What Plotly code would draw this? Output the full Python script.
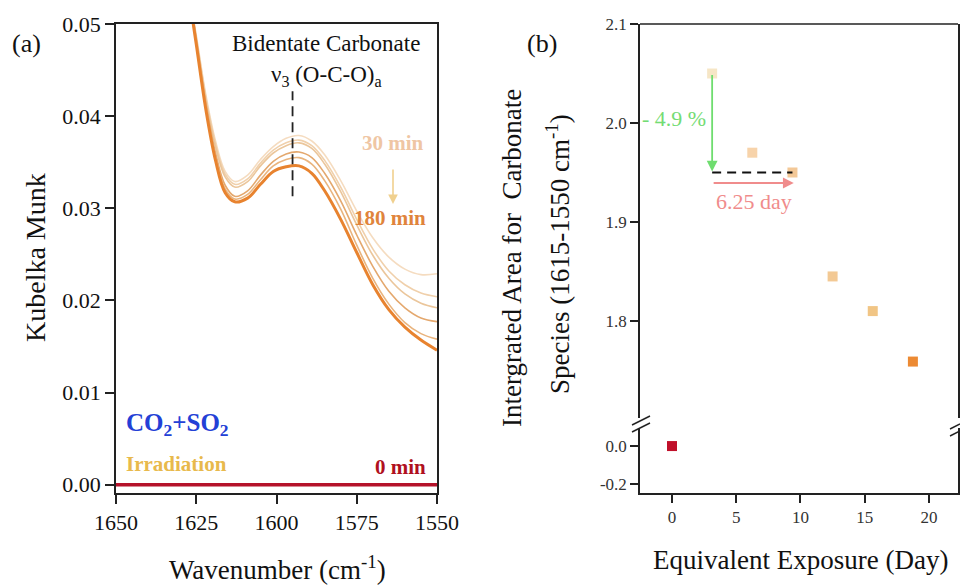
import plotly.graph_objects as go

# ---------------- data ----------------
wavenumber = [1628, 1625, 1622, 1619, 1616, 1613, 1609, 1605, 1601, 1597,
              1593, 1589, 1585, 1580, 1575, 1570, 1565, 1560, 1555, 1550]

km_30 = [55.0, 48.8, 42.3, 37.3, 34.0, 32.9, 33.6, 35.3, 36.7, 37.6,
         37.9, 37.3, 35.8, 33.0, 29.7, 26.8, 24.7, 23.4, 22.8, 22.9]
km_60 = [55.0, 48.6, 42.0, 37.0, 33.7, 32.6, 33.2, 34.9, 36.3, 37.1,
         37.4, 36.8, 35.2, 32.3, 28.8, 25.6, 23.2, 21.7, 20.8, 20.4]
km_90 = [55.0, 48.5, 41.8, 36.7, 33.4, 32.3, 32.9, 34.6, 36.0, 36.8,
         37.1, 36.5, 34.8, 31.8, 28.2, 24.9, 22.4, 20.7, 19.7, 19.2]
km_120 = [55.0, 48.3, 41.4, 36.0, 32.5, 31.3, 31.9, 33.6, 35.1, 35.9,
          36.1, 35.5, 33.8, 30.8, 27.1, 23.7, 21.0, 19.2, 18.1, 17.7]
km_150 = [55.0, 48.1, 41.1, 35.6, 32.1, 31.0, 31.5, 33.1, 34.6, 35.3,
          35.5, 34.8, 33.0, 29.9, 26.0, 22.4, 19.6, 17.6, 16.4, 15.8]
km_180 = [54.8, 47.8, 40.7, 35.2, 31.7, 30.7, 31.1, 32.6, 34.0, 34.5,
          34.6, 33.8, 31.9, 28.8, 25.2, 21.7, 19.0, 17.1, 15.7, 14.6]
km_0_x = [1650, 1550]
km_0 = [0.0, 0.0]
km_scale = 1e-3  # values above are in units of 0.001

exposure_day = [3.125, 6.25, 9.375, 12.5, 15.625, 18.75]
area = [2.050, 1.970, 1.950, 1.845, 1.810, 1.759]
exposure_zero = [0]
area_zero = [0.0]

peak_wn = 1595
peak_top, peak_bottom = 0.0427, 0.0313

x_ticks_a = [1650, 1625, 1600, 1575, 1550]
y_ticks_a = [0.00, 0.01, 0.02, 0.03, 0.04, 0.05]
y_ticklabels_a = ["0.00", "0.01", "0.02", "0.03", "0.04", "0.05"]
x_ticks_b = [0, 5, 10, 15, 20]
y_ticks_b_up = [1.8, 1.9, 2.0, 2.1]
y_ticklabels_b_up = ["1.8", "1.9", "2.0", "2.1"]
y_ticks_b_lo = [-0.2, 0.0]
y_ticklabels_b_lo = ["-0.2", "0.0"]

# ---------------- styling ----------------
W, H = 960, 588
FONT = "Liberation Serif"
def PX(p): return p / W
def PY(p): return 1 - p / H

curve_colors = ["#f5dcc0", "#f0d0ab", "#ebc69b", "#e4a86e", "#e9b47e", "#e8832f"]
curve_widths = [1.6, 1.6, 1.6, 1.6, 1.6, 3.0]
point_colors = ["#f6e6c6", "#f7d3aa", "#f3c897", "#f3c994", "#f1c585", "#ec8a33"]

fig = go.Figure()

for vals, c, w, name in zip([km_30, km_60, km_90, km_120, km_150, km_180],
                            curve_colors, curve_widths,
                            ["30", "60", "90", "120", "150", "180"]):
    fig.add_trace(go.Scatter(x=wavenumber, y=[v * km_scale for v in vals],
                             mode="lines", line=dict(color=c, width=w, shape="spline", smoothing=1.0),
                             xaxis="x", yaxis="y", showlegend=False, name=name + " min"))
fig.add_trace(go.Scatter(x=km_0_x, y=km_0, mode="lines",
                         line=dict(color="#b5122a", width=3.5),
                         xaxis="x", yaxis="y", showlegend=False))

fig.add_trace(go.Scatter(x=exposure_day, y=area, mode="markers",
                         marker=dict(symbol="square", size=10, color=point_colors, line=dict(width=0)),
                         xaxis="x2", yaxis="y3", showlegend=False))
fig.add_trace(go.Scatter(x=exposure_zero, y=area_zero, mode="markers",
                         marker=dict(symbol="square", size=10, color="#c0102a", line=dict(width=0)),
                         xaxis="x2", yaxis="y4", showlegend=False))

axis_common = dict(showgrid=False, zeroline=False, ticks="outside", showline=True,
                   linecolor="#222", linewidth=1.5, tickcolor="#222", tickwidth=1.5,
                   automargin=False)
big_tick = dict(size=22, family=FONT, color="#111")
small_tick = dict(size=17, family=FONT, color="#333")

fig.update_layout(
    template="none",
    width=W, height=H, margin=dict(l=0, r=0, t=0, b=0, pad=0, autoexpand=False),
    plot_bgcolor="white", paper_bgcolor="white",
    font=dict(family=FONT, color="#111"),
    xaxis=dict(domain=[PX(116), PX(437)], range=[1650, 1550], anchor="y",
               tickvals=x_ticks_a, ticklen=9, mirror=True,
               tickfont=big_tick, **axis_common),
    yaxis=dict(domain=[PY(493), PY(24)], range=[-0.0009, 0.05], anchor="x",
               tickvals=y_ticks_a, ticktext=y_ticklabels_a, ticklen=9, mirror=True,
               tickfont=big_tick, **axis_common),
    xaxis2=dict(domain=[PX(640), PX(958)], range=[-2.49, 22.26], anchor="y4",
                tickvals=x_ticks_b, ticklen=8,
                tickfont=small_tick, **axis_common),
    yaxis3=dict(domain=[PY(418), PY(24)], range=[1.702, 2.1], anchor="x2",
                tickvals=y_ticks_b_up, ticktext=y_ticklabels_b_up, ticklen=8, mirror=True,
                tickfont=small_tick, **axis_common),
    yaxis4=dict(domain=[PY(493), PY(428)], range=[-0.247, 0.095], anchor="x2",
                tickvals=y_ticks_b_lo, ticktext=y_ticklabels_b_lo, ticklen=8, mirror=True,
                tickfont=small_tick, **axis_common),
)

shapes = []
# dashed marker line at peak
shapes.append(dict(type="line", xref="x", yref="y", x0=peak_wn, x1=peak_wn,
                   y0=peak_bottom, y1=peak_top,
                   line=dict(color="#222", width=1.8, dash="10px,6px")))
# top frame of right panel
shapes.append(dict(type="line", xref="paper", yref="paper", x0=PX(640), x1=PX(958),
                   y0=PY(24), y1=PY(24), line=dict(color="#222", width=1.5)))
# dashed horizontal at plateau
shapes.append(dict(type="line", xref="x2", yref="y3", x0=exposure_day[0], x1=exposure_day[2],
                   y0=area[2], y1=area[2], line=dict(color="#111", width=2, dash="9px,6px")))
# axis break marks
for dy in (0, 7):
    shapes.append(dict(type="line", xref="paper", yref="paper",
                       x0=PX(632), y0=PY(425 + dy), x1=PX(650), y1=PY(416 + dy),
                       line=dict(color="#222", width=1.5)))
    shapes.append(dict(type="line", xref="paper", yref="paper",
                       x0=PX(950), y0=PY(429 + dy), x1=PX(960), y1=PY(424 + dy),
                       line=dict(color="#222", width=1.5)))
fig.update_layout(shapes=shapes)

ann = []
def txt(x, y, text, size, color="#111", xanchor="center", yanchor="middle", angle=0, bold=False):
    t = f"<b>{text}</b>" if bold else text
    ann.append(dict(xref="paper", yref="paper", x=PX(x), y=PY(y), text=t, showarrow=False,
                    xanchor=xanchor, yanchor=yanchor, textangle=angle,
                    font=dict(family=FONT, size=size, color=color)))

txt(26, 44, "(a)", 26)
txt(542, 43, "(b)", 26)
txt(36, 258, "Kubelka Munk", 28, angle=-90)
txt(277, 568, "Wavenumber (cm<sup>-1</sup>)", 27)
txt(800, 560, "Equivalent Exposure (Day)", 27)
txt(512, 258, "Intergrated Area for  Carbonate", 27, angle=-90)
txt(558, 254, "Species (1615-1550 cm<sup>-1</sup>)", 27, angle=-90)
txt(326, 43, "Bidentate Carbonate", 23)
txt(326, 76, "ν<sub>3</sub> (O-C-O)<sub>a</sub>", 23)
txt(393, 143, "30 min", 21, color="#efc6a4", bold=True)
txt(390, 218, "180 min", 21, color="#e0843c", bold=True)
txt(124, 424, "CO<sub>2</sub>+SO<sub>2</sub>", 25, color="#2340d6", xanchor="left", bold=True)
txt(124, 464, "Irradiation", 21, color="#e8b94c", xanchor="left", bold=True)
txt(428, 467, "0 min", 21, color="#b01020", xanchor="right", bold=True)
txt(674, 118, "- 4.9 %", 22, color="#74dc74")
txt(754, 201, "6.25 day", 22, color="#f08c8c")

# arrows
ann.append(dict(xref="paper", yref="paper", x=PX(393), y=PY(204), ax=0, ay=-36,
                axref="pixel", ayref="pixel", text="", showarrow=True,
                arrowhead=2, arrowsize=1.2, arrowwidth=1.6, arrowcolor="#f0d08e"))
ann.append(dict(xref="x2", yref="y3", x=exposure_day[0], y=area[2] + 0.001,
                ax=exposure_day[0], ay=area[0], axref="x2", ayref="y3", text="", showarrow=True,
                arrowhead=2, arrowsize=1.2, arrowwidth=1.8, arrowcolor="#6fdd6f"))
ann.append(dict(xref="x2", yref="y3", x=exposure_day[2] + 0.1, y=1.9394,
                ax=exposure_day[0], ay=1.9394, axref="x2", ayref="y3", text="", showarrow=True,
                arrowhead=2, arrowsize=1.2, arrowwidth=1.8, arrowcolor="#f08c8c"))
fig.update_layout(annotations=ann)

fig.write_html("out.html", config={"displayModeBar": False},
               post_script="document.body.style.margin='0';document.body.style.overflow='hidden';")
